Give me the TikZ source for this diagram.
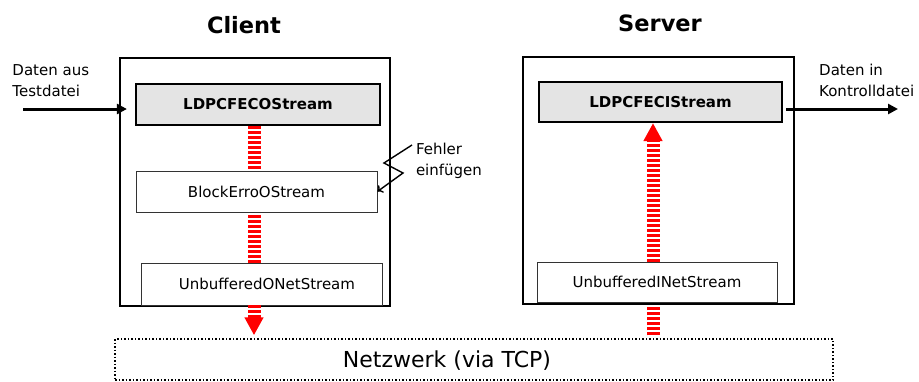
\documentclass[tikz,border=0pt]{standalone}
\usepackage{fontspec}
\setmainfont{DejaVu Sans}
\usetikzlibrary{arrows.meta}
\definecolor{boxgray}{HTML}{E4E4E4}
\definecolor{stripered}{HTML}{FF0000}
\begin{document}
\begin{tikzpicture}[x=1pt,y=-1pt,
  font=\fontsize{15}{21}\selectfont,
  outerbox/.style={draw=black, line width=2.2pt, minimum width=#1},
  fecbox/.style={draw=black, line width=2.2pt, fill=boxgray, font=\fontsize{15}{21}\selectfont\bfseries, minimum height=41pt},
  plainbox/.style={draw=black!80, line width=0.9pt, fill=white, minimum height=41pt},
  stripes/.style={draw=stripered, line width=13pt, dash pattern=on 2.8pt off 2.2pt},
  stripearrow/.style={stripes, -{Triangle[length=18pt,width=18pt]}},
  datarrow/.style={draw=black, line width=3pt, -{Triangle[length=10pt,width=10pt]}},
  titlefont/.style={font=\fontsize{22.5}{27}\selectfont\bfseries},
  sidetext/.style={anchor=west, align=left, inner sep=3.3pt},
]
\useasboundingbox (0,0) rectangle (919,381);

% titles
\node[titlefont] (tcl) at (244,25) {Client};
\node[titlefont] (tsv) at (660,23) {Server};

% outer boxes
\node[outerbox=270pt, minimum height=248pt] (cl) at (255,182) {};
\node[outerbox=271pt, minimum height=247pt] (sv) at (658.5,180.5) {};

% client stack
\node[fecbox, minimum width=244pt] (ldo) at (258,104.5) {LDPCFECOStream};
\node[plainbox, minimum width=241pt] (beo) at (256.5,191.5) {BlockErroOStream};
\node[plainbox, minimum width=241pt, minimum height=42pt] (uon) at (261.5,284) {\hspace*{11pt}UnbufferedONetStream};

% server stack
\node[fecbox, minimum width=243pt, minimum height=40pt] (ldi) at (660.5,102) {LDPCFECIStream};
\node[plainbox, minimum width=240pt, minimum height=40pt] (uin) at (657,282) {UnbufferedINetStream};

% network
\node[draw=black, line width=1.5pt, dash pattern=on 1.5pt off 2pt,
      minimum width=718pt, minimum height=41pt,
      label={[font=\fontsize{22}{26}\selectfont, xshift=-27pt, yshift=-1pt]center:Netzwerk (via TCP)}] (net) at (474,359.5) {};

% stripe columns
\coordinate (colC) at (254,0);
\coordinate (colS) at (653,0);

% client red stripes
\draw[stripes] (ldo.south -| colC) -- (beo.north -| colC);
\draw[stripes, shorten <=3pt] (beo.south -| colC) -- (uon.north -| colC);
\draw[stripearrow, shorten >=3pt] (uon.south -| colC) -- (net.north -| colC);

% server red stripes
\draw[stripes, shorten <=3pt, shorten >=3pt] (net.north -| colS) -- (uin.south -| colS);
\draw[stripearrow] (uin.north -| colS) -- (ldi.south -| colS);

% input data
\node[sidetext] (din) at (9,80.5) {Daten aus\\Testdatei};
\coordinate (ina) at (23,109);
\draw[datarrow, shorten >=8pt] (ina) -- (ldo.west |- ina);

% output data
\node[sidetext] (dout) at (815.7,80.5) {Daten in\\Kontrolldatei};
\coordinate (outa) at (898,109);
\draw[datarrow, shorten <=3pt] (ldi.east |- outa) -- (outa);

% error injection
\node[sidetext] (fehl) at (412.5,160.5) {Fehler\\einfügen};
\coordinate (fz) at (412,145);
\draw[black, line width=1.4pt, -{To[length=5pt,width=9pt]}]
  (fz) -- (384,163) -- (403,173) -- (beo.east);
\end{tikzpicture}
\end{document}
